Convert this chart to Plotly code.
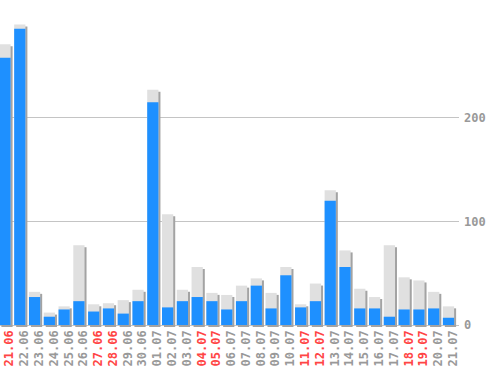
import plotly.graph_objects as go

dates = ["21.06", "22.06", "23.06", "24.06", "25.06", "26.06", "27.06", "28.06", "29.06", "30.06",
         "01.07", "02.07", "03.07", "04.07", "05.07", "06.07", "07.07", "08.07", "09.07", "10.07",
         "11.07", "12.07", "13.07", "14.07", "15.07", "16.07", "17.07", "18.07", "19.07", "20.07", "21.07"]
red_dates = ["21.06", "27.06", "28.06", "04.07", "05.07", "11.07", "12.07", "18.07", "19.07"]
totals = [271, 290, 32, 12, 18, 77, 20, 21, 24, 34, 227, 107, 34, 56, 31, 29, 38, 45, 31, 56,
          20, 40, 130, 72, 35, 27, 77, 46, 43, 32, 18]
blue = [258, 286, 27, 8, 15, 23, 13, 16, 11, 23, 215, 17, 23, 27, 23, 15, 23, 38, 16, 48,
        17, 23, 120, 56, 16, 16, 8, 15, 15, 16, 7]
y_ticks = [0, 100, 200]

W, H = 498, 370
plot_right = 459
plot_bottom = 327
px_per_cat = 14.783
px_per_unit = 1.036
first_center = 5.0
bar_w = 0.76
label_shift = 4.5 / px_per_cat

x = list(range(len(dates)))
x0 = -first_center / px_per_cat
x1 = (plot_right - first_center) / px_per_cat
y0 = -(plot_bottom - 325) / px_per_unit
y1 = y0 + plot_bottom / px_per_unit

sh_dx = 2 / px_per_cat
sh_dy = 2 / px_per_unit

fig = go.Figure()
fig.add_trace(go.Bar(x=x, y=totals, base=[-sh_dy] * len(x), width=bar_w, offset=-bar_w / 2 + sh_dx,
                     marker=dict(color="#a3a3a3", line=dict(width=0)), hoverinfo="skip"))
fig.add_trace(go.Bar(x=x, y=totals, width=bar_w, offset=-bar_w / 2,
                     marker=dict(color="#e0e0e0", line=dict(width=0)), hoverinfo="skip"))
fig.add_trace(go.Bar(x=x, y=blue, width=bar_w, offset=-bar_w / 2,
                     marker=dict(color="#1e90ff", line=dict(width=0)), hoverinfo="skip"))

ticktext = [f"<span style='color:#ff4545'>{d}</span>" if d in red_dates else d for d in dates]

fig.update_layout(
    width=W, height=H, barmode="overlay", showlegend=False,
    margin=dict(l=0, r=W - plot_right, t=0, b=H - plot_bottom, pad=0, autoexpand=False),
    paper_bgcolor="white", plot_bgcolor="white",
    font=dict(family="DejaVu Sans Mono", size=12, color="#999999"),
    xaxis=dict(range=[x0, x1], tickvals=[i + label_shift for i in x], ticktext=ticktext, tickangle=-90,
               showgrid=False, zeroline=False, showline=False, ticks="",
               ticklabeloverflow="allow", automargin=False,
               tickfont=dict(family="DejaVu Sans Mono", size=12, color="#999999", weight="bold")),
    yaxis=dict(range=[y0, y1], side="right", tickvals=y_ticks, ticktext=[str(v) for v in y_ticks],
               showgrid=True, gridcolor="#c4c4c4", gridwidth=1, zeroline=False, showline=False,
               ticks="", ticklabelstandoff=4, ticklabeloverflow="allow", automargin=False,
               tickfont=dict(family="DejaVu Sans Mono", size=12, color="#999999", weight="bold")),
)
fig.write_html("out.html")
